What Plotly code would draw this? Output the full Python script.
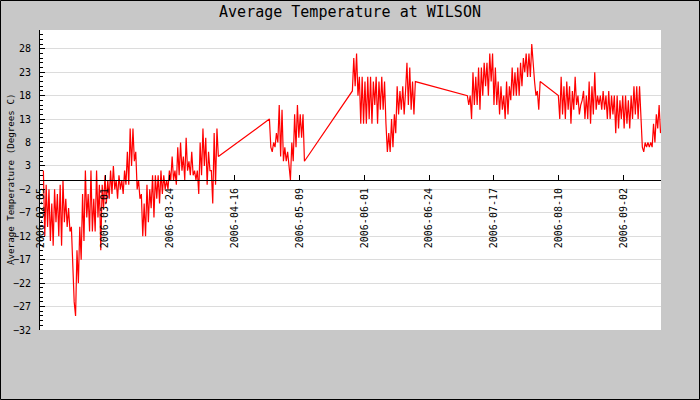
import plotly.graph_objects as go
import pandas as pd

# ---- data ----
# each segment: start time, 12-hour readings
seg_starts = ["2006-02-07 00:00", "2006-04-28 18:00", "2006-05-28 09:00",
              "2006-07-08 11:00", "2006-08-09 23:00"]

seg_a = [2, -12, -1, -10, -2, -13, -5, -14, -2, -9, -3, -12, -1, -14, 0, -9,
         -4, -10, -6, -11, -10, -19, -26, -29, -15, -22, -10, -17, -3, -13,
         2, -8, -3, -11, 2, -11, -4, -11, 2, -8, -1, -15, -1, -6, 1, -5,
         0, -4, 2, -3, 3, -2, 0, -4, 1, -2, 0, -3, 2, -1, 6, -1, 11, 3,
         11, 4, 6, -2, 0, -4, -3, -12, -5, -12, -1, -9, -2, -6, 1, -8,
         1, -4, 1, -5, 2, -3, 1, -2, 0, -2, 2, 0, 5, 0, 2, -1, 7, 1,
         8, 2, 5, 0, 9, 2, 4, 1, 6, 1, 2, 0, 2, -3, 8, 1, 11, 3, 9, -1,
         6, 2, 2, -5, 10, -1, 11, 5]
seg_b = [13, 7, 6, 8, 7, 10, 8, 16, 5, 15, 4, 7, 4, 6, 3, 0, 8, 4, 14, 7,
         16, 9, 14, 9, 14, 4]
seg_c = [19, 26, 20, 27, 18, 22, 12, 22, 12, 21, 12, 22, 13, 22, 12, 21,
         16, 22, 12, 21, 15, 22, 15, 21, 12, 6, 10, 6, 13, 7, 14, 10, 20,
         14, 19, 15, 20, 14, 19, 25, 16, 24, 15, 21, 14, 21]
seg_d = [18, 16, 18, 13, 23, 16, 22, 16, 24, 15, 24, 18, 25, 20, 25, 18,
         27, 21, 27, 16, 24, 16, 21, 14, 20, 15, 18, 13, 21, 14, 20, 17,
         24, 18, 23, 18, 24, 18, 25, 20, 26, 23, 27, 22, 27, 22, 29, 24,
         21, 18, 19, 15, 21]
seg_e = [18, 13, 22, 14, 20, 13, 21, 15, 20, 12, 19, 15, 22, 16, 18, 14,
         16, 17, 19, 13, 18, 13, 21, 12, 20, 14, 23, 15, 18, 16, 18, 15,
         19, 15, 18, 13, 19, 13, 18, 14, 18, 10, 18, 11, 17, 13, 18, 11,
         18, 12, 17, 11, 18, 13, 20, 14, 20, 13, 20, 14, 7, 6, 8, 7, 8, 7,
         8, 7, 12, 8, 14, 11, 16, 10]
segments = [seg_a, seg_b, seg_c, seg_d, seg_e]

tick_dates = ["2006-02-05 21:24", "2006-03-01 00:57", "2006-03-24 04:30",
              "2006-04-16 08:03", "2006-05-09 11:37", "2006-06-01 15:10",
              "2006-06-24 18:43", "2006-07-17 22:17", "2006-08-10 01:50",
              "2006-09-02 05:23"]
tick_labels = ["2006-02-05", "2006-03-01", "2006-03-24", "2006-04-16",
               "2006-05-09", "2006-06-01", "2006-06-24", "2006-07-17",
               "2006-08-10", "2006-09-02"]

x_range = ["2006-02-05 19:00", "2006-09-15 15:00"]
y_range = [-32, 32]

# ---- build series ----
xs, ys = [], []
for start, vals in zip(seg_starts, segments):
    xs.extend(pd.date_range(start, periods=len(vals), freq="12h"))
    ys.extend(vals)

mono = "DejaVu Sans Mono"
fig = go.Figure()
fig.add_trace(go.Scatter(x=xs, y=ys, mode="lines",
                         line=dict(color="#ff0000", width=1.2),
                         showlegend=False, hoverinfo="skip"))

L, R, T, B = 40, 39, 30, 70
W, H = 700, 400
pw, ph = W - L - R, H - T - B

fig.update_layout(
    width=W, height=H,
    margin=dict(l=L, r=R, t=T, b=B, pad=0),
    paper_bgcolor="#c8c8c8",
    plot_bgcolor="#ffffff",
    title=dict(text="Average Temperature at WILSON", x=0.5, xanchor="center",
               y=1 - 12 / H, yanchor="middle", yref="container",
               font=dict(family=mono, size=15, color="#000000")),
    xaxis=dict(type="date", range=x_range, anchor="free", position=0.5,
               showline=True, linecolor="#000000", linewidth=1,
               ticks="inside", ticklen=5, tickcolor="#000000",
               tickvals=tick_dates, ticktext=tick_labels, tickangle=-90,
               tickfont=dict(family=mono, size=10, color="#000000"),
               showgrid=False, zeroline=False, automargin=False,
               ticklabelstandoff=3),
    yaxis=dict(range=y_range, tick0=-32, dtick=5,
               showline=True, linecolor="#000000", linewidth=1,
               ticks="inside", ticklen=5, tickcolor="#000000",
               minor=dict(dtick=1, ticks="inside", ticklen=3,
                          tickcolor="#000000", showgrid=False),
               showgrid=True, gridcolor="#dcdcdc", gridwidth=1,
               zeroline=False, automargin=False,
               tickfont=dict(family=mono, size=10, color="#000000"),
               ticklabelstandoff=6),
    annotations=[
        dict(text="Average Temperature (Degrees C)", textangle=-90,
             xref="paper", yref="paper", x=(10 - L) / pw, y=0.5,
             xanchor="center", yanchor="middle", showarrow=False,
             font=dict(family=mono, size=9.2, color="#000000")),
    ],
    shapes=[
        dict(type="rect", xref="paper", yref="paper",
             x0=(0.5 - L) / pw, x1=(W - 0.5 - L) / pw,
             y0=-(H - 0.5 - T - ph) / ph, y1=(ph + T - 0.5) / ph,
             line=dict(color="#000000", width=1), layer="above"),
    ],
)

fig.write_html("out.html")
